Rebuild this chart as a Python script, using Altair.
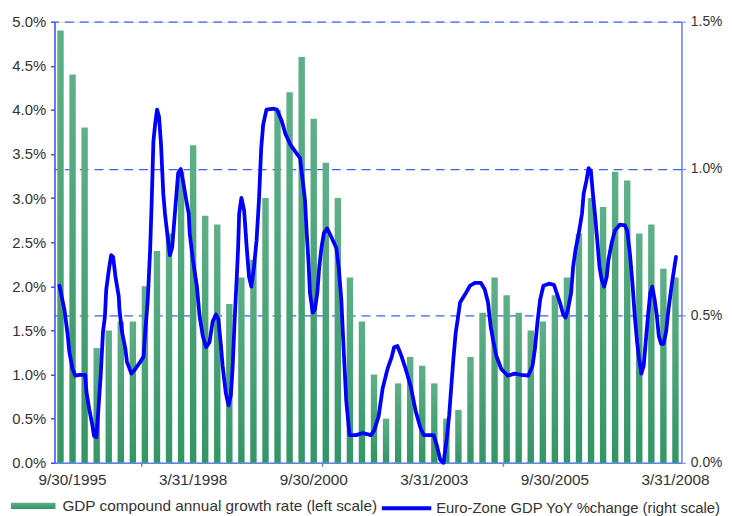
import altair as alt
import pandas as pd

FONT = "Liberation Sans"

quarters = [
    "6/30/1995", "9/30/1995", "12/31/1995",
    "3/31/1996", "6/30/1996", "9/30/1996", "12/31/1996",
    "3/31/1997", "6/30/1997", "9/30/1997", "12/31/1997",
    "3/31/1998", "6/30/1998", "9/30/1998", "12/31/1998",
    "3/31/1999", "6/30/1999", "9/30/1999", "12/31/1999",
    "3/31/2000", "6/30/2000", "9/30/2000", "12/31/2000",
    "3/31/2001", "6/30/2001", "9/30/2001", "12/31/2001",
    "3/31/2002", "6/30/2002", "9/30/2002", "12/31/2002",
    "3/31/2003", "6/30/2003", "9/30/2003", "12/31/2003",
    "3/31/2004", "6/30/2004", "9/30/2004", "12/31/2004",
    "3/31/2005", "6/30/2005", "9/30/2005", "12/31/2005",
    "3/31/2006", "6/30/2006", "9/30/2006", "12/31/2006",
    "3/31/2007", "6/30/2007", "9/30/2007", "12/31/2007",
    "3/31/2008",
]

gdp_cagr = [
    4.9, 4.4, 3.8, 1.3, 1.5, 1.6, 1.6, 2.0, 2.4, 2.6, 3.3, 3.6, 2.8,
    2.7, 1.8, 2.1, 2.3, 3.0, 4.0, 4.2, 4.6, 3.9, 3.4, 3.0, 2.1, 1.6,
    1.0, 0.5, 0.9, 1.2, 1.1, 0.9, 0.5, 0.6, 1.2, 1.7, 2.1, 1.9, 1.7,
    1.5, 1.6, 1.9, 2.1, 2.6, 3.0, 2.9, 3.3, 3.2, 2.6, 2.7, 2.2, 2.1,
]

line_year = [
    1995.478, 1995.580, 1995.648, 1995.683, 1995.750, 1995.806, 1995.888, 1996.011, 1996.037, 1996.093,
    1996.160, 1996.195, 1996.243, 1996.277, 1996.333, 1996.380, 1996.421, 1996.448, 1996.503, 1996.550,
    1996.591, 1996.640, 1996.708, 1996.722, 1996.776, 1996.845, 1996.878, 1996.969, 1997.051, 1997.153,
    1997.221, 1997.256, 1997.309, 1997.358, 1997.391, 1997.426, 1997.461, 1997.502, 1997.543, 1997.584,
    1997.631, 1997.666, 1997.713, 1997.768, 1997.816, 1997.871, 1997.939, 1997.994, 1998.041, 1998.109,
    1998.158, 1998.179, 1998.246, 1998.328, 1998.384, 1998.451, 1998.519, 1998.589, 1998.656, 1998.724,
    1998.773, 1998.827, 1998.861, 1998.929, 1998.985, 1999.032, 1999.067, 1999.114, 1999.155, 1999.183,
    1999.204, 1999.251, 1999.307, 1999.360, 1999.409, 1999.456, 1999.512, 1999.565, 1999.614, 1999.661,
    1999.702, 1999.770, 1999.922, 1999.989, 2000.092, 2000.160, 2000.262, 2000.365, 2000.467, 2000.523,
    2000.570, 2000.605, 2000.640, 2000.672, 2000.728, 2000.775, 2000.824, 2000.865, 2000.912, 2000.960,
    2001.029, 2001.117, 2001.220, 2001.267, 2001.322, 2001.370, 2001.425, 2001.493, 2001.630, 2001.768,
    2001.938, 2002.006, 2002.096, 2002.178, 2002.280, 2002.368, 2002.416, 2002.485, 2002.553, 2002.656,
    2002.758, 2002.861, 2002.963, 2003.031, 2003.133, 2003.236, 2003.306, 2003.373, 2003.441, 2003.511,
    2003.558, 2003.599, 2003.646, 2003.695, 2003.736, 2003.784, 2003.886, 2003.989, 2004.091, 2004.214,
    2004.296, 2004.364, 2004.419, 2004.466, 2004.536, 2004.639, 2004.774, 2004.912, 2005.049, 2005.199,
    2005.287, 2005.336, 2005.389, 2005.445, 2005.512, 2005.629, 2005.732, 2005.787, 2005.855, 2005.923,
    2005.972, 2006.019, 2006.087, 2006.128, 2006.177, 2006.245, 2006.312, 2006.347, 2006.402, 2006.450,
    2006.497, 2006.538, 2006.587, 2006.634, 2006.675, 2006.722, 2006.771, 2006.825, 2006.860, 2006.927,
    2006.997, 2007.100, 2007.202, 2007.249, 2007.305, 2007.358, 2007.407, 2007.455, 2007.496, 2007.543,
    2007.592, 2007.633, 2007.680, 2007.728, 2007.769, 2007.818, 2007.865, 2007.906, 2007.953, 2008.002,
    2008.055, 2008.105, 2008.179, 2008.261,
]

line_pct = [
    0.602, 0.521, 0.437, 0.377, 0.319, 0.296, 0.299, 0.299, 0.242, 0.185,
    0.128, 0.091, 0.087, 0.161, 0.296, 0.444, 0.498, 0.589, 0.656, 0.706,
    0.700, 0.632, 0.565, 0.521, 0.444, 0.387, 0.343, 0.303, 0.319, 0.343,
    0.360, 0.444, 0.555, 0.723, 0.891, 1.093, 1.150, 1.201, 1.177, 1.083,
    0.915, 0.847, 0.780, 0.706, 0.733, 0.847, 0.985, 0.999, 0.958, 0.891,
    0.847, 0.780, 0.689, 0.599, 0.498, 0.430, 0.393, 0.410, 0.481, 0.504,
    0.488, 0.397, 0.330, 0.235, 0.195, 0.229, 0.319, 0.498, 0.632, 0.733,
    0.847, 0.901, 0.858, 0.733, 0.632, 0.599, 0.666, 0.757, 0.891, 1.069,
    1.150, 1.201, 1.204, 1.201, 1.160, 1.120, 1.083, 1.059, 1.036, 0.958,
    0.891, 0.780, 0.689, 0.578, 0.511, 0.521, 0.578, 0.666, 0.733, 0.780,
    0.797, 0.767, 0.730, 0.666, 0.555, 0.387, 0.209, 0.094, 0.094, 0.101,
    0.094, 0.111, 0.158, 0.252, 0.319, 0.360, 0.393, 0.397, 0.370, 0.319,
    0.262, 0.178, 0.118, 0.094, 0.094, 0.094, 0.057, 0.010, 0.000, 0.084,
    0.161, 0.252, 0.353, 0.444, 0.488, 0.545, 0.572, 0.602, 0.612, 0.612,
    0.589, 0.545, 0.464, 0.420, 0.363, 0.319, 0.296, 0.303, 0.299, 0.296,
    0.330, 0.387, 0.478, 0.555, 0.602, 0.609, 0.605, 0.578, 0.545, 0.504,
    0.494, 0.521, 0.578, 0.666, 0.723, 0.780, 0.847, 0.915, 0.958, 1.002,
    0.992, 0.915, 0.834, 0.747, 0.666, 0.622, 0.599, 0.632, 0.689, 0.747,
    0.790, 0.810, 0.807, 0.790, 0.713, 0.612, 0.498, 0.410, 0.353, 0.303,
    0.330, 0.410, 0.498, 0.578, 0.599, 0.555, 0.498, 0.430, 0.404, 0.404,
    0.444, 0.521, 0.612, 0.700,
]

label_quarters = ["9/30/1995", "3/31/1998", "9/30/2000", "3/31/2003", "9/30/2005", "3/31/2008"]
tick_quarters = ["3/31/1997", "12/31/2000", "9/30/2004"]
left_ticks = [0, 0.5, 1.0, 1.5, 2.0, 2.5, 3.0, 3.5, 4.0, 4.5, 5.0]
right_ticks = [0, 0.5, 1.0, 1.5]

L1 = "GDP compound annual growth rate (left scale)"
L2 = "Euro-Zone GDP YoY %change (right scale)"

bars_df = pd.DataFrame({"quarter": quarters, "cagr": gdp_cagr, "series": L1})
ticks_df = pd.DataFrame({"quarter": tick_quarters})
line_df = pd.DataFrame({"year": line_year, "yoy": line_pct, "series": L2})

TXT = "#333333"
AX_LEFT = "#3a4ff0"
AX_OTHER = "#6283f2"
GRID = "#3a62f5"
pct_expr = "format(datum.value, '.1f') + '%'"
label_list = "[" + ",".join("'" + q + "'" for q in label_quarters) + "]"

x_scale = alt.Scale(domain=quarters, paddingInner=0.47, paddingOuter=0.235)

grad = {
    "gradient": "linear", "x1": 0, "x2": 0, "y1": 0, "y2": 1,
    "stops": [{"offset": 0, "color": "#5fb088"}, {"offset": 1, "color": "#339565"}],
}

bars = alt.Chart(bars_df).mark_bar(fill=grad).encode(
    x=alt.X("quarter:N", scale=x_scale, sort=None,
            axis=alt.Axis(title=None, ticks=False, labelAngle=0, labelOverlap=False,
                          labelExpr="indexof(" + label_list + ", datum.value) >= 0 ? datum.value : ''",
                          labelFontSize=15.5, labelColor=TXT, labelFont=FONT, labelPadding=10,
                          domainColor=AX_OTHER, domainWidth=1.5)),
    y=alt.Y("cagr:Q", scale=alt.Scale(domain=[0, 5], nice=False),
            axis=alt.Axis(title=None, orient="left", values=left_ticks, labelExpr=pct_expr,
                          grid=False, tickSize=4, tickColor=AX_LEFT, tickWidth=1.5,
                          domainColor=AX_LEFT, domainWidth=1.5,
                          labelFontSize=15, labelColor=TXT, labelFont=FONT, labelPadding=5)),
    opacity=alt.Opacity("series:N", scale=alt.Scale(domain=[L1], range=[1]),
                        legend=alt.Legend(orient="none", legendX=-44, legendY=467, title=None,
                                          symbolType="M-1,-0.14H1V0.14H-1Z", symbolSize=2025,
                                          symbolFillColor="#3a9a6a", symbolStrokeWidth=0,
                                          labelFontSize=15.5, labelColor=TXT, labelFont=FONT,
                                          labelOffset=7, labelLimit=0, padding=0)),
)

xticks = alt.Chart(ticks_df).mark_rule(color=AX_OTHER, strokeWidth=1.5).encode(
    x=alt.X("quarter:N", scale=x_scale, sort=None, bandPosition=0),
    y=alt.value(446),
    y2=alt.value(450),
)

line = alt.Chart(line_df).mark_line(strokeWidth=3.8, strokeJoin="round", strokeCap="round").encode(
    x=alt.X("year:Q", scale=alt.Scale(domain=[1995.375, 2008.375], nice=False, zero=False), axis=None),
    y=alt.Y("yoy:Q", scale=alt.Scale(domain=[0, 1.5], nice=False),
            axis=alt.Axis(title=None, orient="right", values=right_ticks, labelExpr=pct_expr,
                          grid=True, gridDash=[9, 6], gridColor=GRID, gridWidth=1.2,
                          tickSize=4, tickColor=AX_OTHER, domainColor=AX_OTHER, domainWidth=1.5,
                          labelFontSize=14, labelColor=TXT, labelFont=FONT, labelPadding=5)),
    color=alt.Color("series:N", scale=alt.Scale(domain=[L2], range=["#0000ff"]),
                    legend=alt.Legend(orient="none", legendX=329, legendY=465, title=None,
                                      symbolType="stroke", symbolSize=2500, symbolStrokeWidth=3.8,
                                      labelFontSize=15, labelColor=TXT, labelFont=FONT,
                                      labelOffset=3, labelLimit=0, padding=0)),
)

chart = alt.layer(alt.layer(bars, xticks), line).resolve_scale(
    x="independent", y="independent"
).properties(
    width=634, height=446,
    padding={"left": 47, "top": 11, "right": 43, "bottom": 51},
    autosize=alt.AutoSizeParams(type="none"),
).configure_view(stroke=None).configure(font=FONT, background="white")

chart.save("out.html", embed_options={"renderer": "svg", "actions": False})
